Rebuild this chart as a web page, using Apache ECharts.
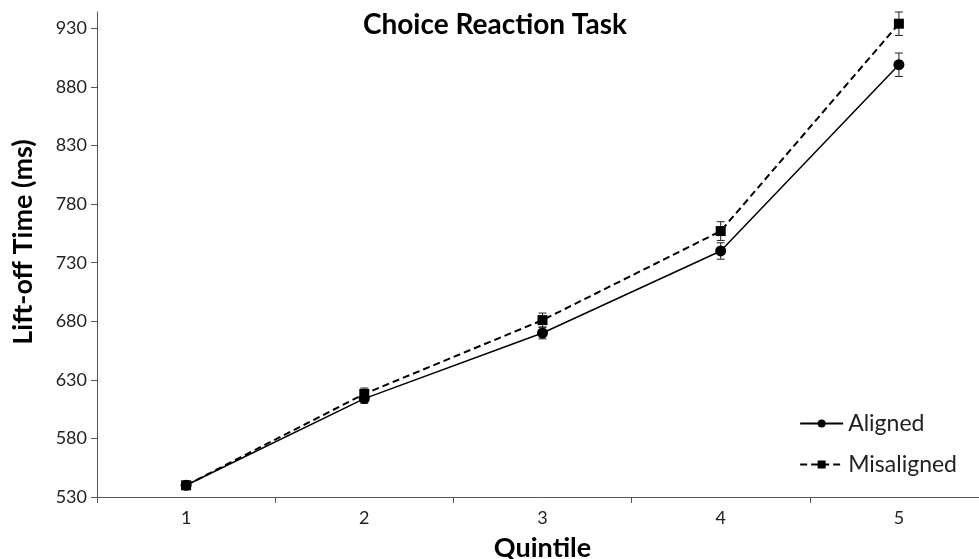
<!DOCTYPE html>
<html>
<head>
<meta charset="utf-8">
<script src="https://cdn.jsdelivr.net/npm/echarts@6/dist/echarts.min.js"></script>
<style>
  html, body { margin: 0; padding: 0; background: #fff; }
  #main { width: 979px; height: 559px; }
</style>
</head>
<body>
<div id="main"></div>
<script>
var quintiles = ['1', '2', '3', '4', '5'];
var aligned = [540, 614, 670, 740, 899];
var alignedErr = [3, 4, 5, 7, 10];
var misaligned = [540, 618, 681, 757, 934];
var misalignedErr = [3, 5, 6, 8, 10];
var yTicks = [530, 580, 630, 680, 730, 780, 830, 880, 930];

var FONT = 'Lato, "Open Sans", sans-serif';

function errorSeries(values, errs) {
    var data = values.map(function (v, i) { return [i, v - errs[i], v + errs[i]]; });
    return {
        type: 'custom',
        z: 3,
        silent: true,
        data: data,
        renderItem: function (params, api) {
            var lo = api.coord([api.value(0), api.value(1)]);
            var hi = api.coord([api.value(0), api.value(2)]);
            var w = 4;
            var style = { stroke: '#222', lineWidth: 1 };
            return {
                type: 'group',
                children: [
                    { type: 'line', shape: { x1: lo[0], y1: lo[1], x2: hi[0], y2: hi[1] }, style: style },
                    { type: 'line', shape: { x1: lo[0] - w, y1: lo[1], x2: lo[0] + w, y2: lo[1] }, style: style },
                    { type: 'line', shape: { x1: hi[0] - w, y1: hi[1], x2: hi[0] + w, y2: hi[1] }, style: style }
                ]
            };
        }
    };
}

var chart = echarts.init(document.getElementById('main'));
var option = {
    backgroundColor: '#fff',
    animation: false,
    title: {
        text: 'Choice Reaction Task',
        left: 490,
        textAlign: 'center',
        top: 6,
        textStyle: { fontFamily: FONT, fontSize: 28, fontWeight: 'bold', color: '#000' }
    },
    graphic: [{
        type: 'text',
        x: 23,
        y: 242,
        rotation: Math.PI / 2,
        style: {
            text: 'Lift-off Time (ms)',
            font: 'bold 27px ' + FONT,
            fill: '#000',
            align: 'center',
            verticalAlign: 'middle'
        }
    }],
    legend: {
        orient: 'vertical',
        right: 17,
        top: 407,
        itemWidth: 43,
        itemHeight: 10,
        itemGap: 18,
        data: ['Aligned', 'Misaligned'],
        textStyle: { fontFamily: FONT, fontSize: 23, color: '#222' }
    },
    grid: {
        left: 97,
        right: -9,
        top: 12,
        bottom: 62,
        containLabel: false,
        outerBoundsMode: 'none'
    },
    xAxis: {
        type: 'category',
        data: quintiles,
        boundaryGap: true,
        name: 'Quintile',
        nameLocation: 'middle',
        nameGap: 38,
        nameTextStyle: { fontFamily: FONT, fontSize: 27, fontWeight: 'bold', color: '#000' },
        axisLine: { lineStyle: { color: '#555', width: 1 } },
        axisTick: { show: true, inside: false, length: 6, lineStyle: { color: '#555' } },
        axisLabel: { fontFamily: FONT, fontSize: 18, color: '#222', margin: 12 },
        splitLine: { show: false }
    },
    yAxis: {
        type: 'value',
        min: 530,
        max: 944,
        interval: 50,
        axisLine: { show: true, lineStyle: { color: '#555', width: 1 } },
        axisTick: { show: true, length: 6, customValues: yTicks, lineStyle: { color: '#555' } },
        axisLabel: { fontFamily: FONT, fontSize: 18, color: '#222', margin: 10, customValues: yTicks },
        splitLine: { show: false }
    },
    series: [
        {
            name: 'Aligned',
            type: 'line',
            data: aligned,
            symbol: 'circle',
            symbolSize: 11,
            z: 4,
            itemStyle: { color: '#000' },
            lineStyle: { color: '#000', width: 1.5, type: 'solid' }
        },
        {
            name: 'Misaligned',
            type: 'line',
            data: misaligned,
            symbol: 'rect',
            symbolSize: 10,
            z: 4,
            itemStyle: { color: '#000' },
            lineStyle: { color: '#000', width: 2, type: [7, 4] }
        },
        errorSeries(aligned, alignedErr),
        errorSeries(misaligned, misalignedErr)
    ]
};
chart.setOption(option);
</script>
</body>
</html>
